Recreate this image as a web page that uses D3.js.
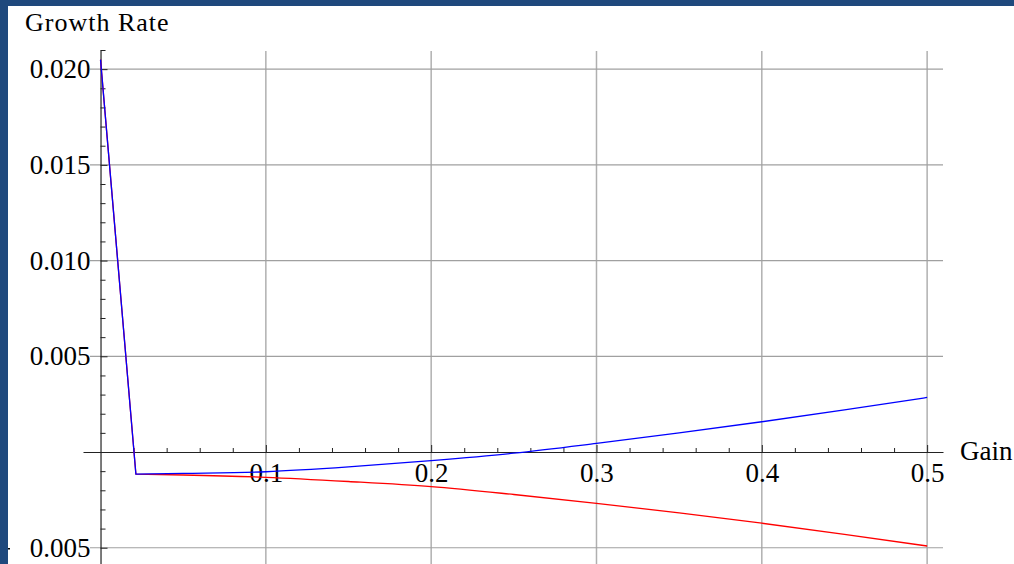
<!DOCTYPE html>
<html>
<head>
<meta charset="utf-8">
<script src="https://cdn.jsdelivr.net/npm/d3@7"></script>
<style>
    body { margin: 0; background: #fff; }
    svg { display: block; }
</style>
</head>
<body>
<div id="chart"></div>
<script>
// values
const gainValues = [0, 0.0214, 0.05, 0.1, 0.15, 0.2, 0.25, 0.3, 0.35, 0.4, 0.45, 0.5];
const blueRates = [0.0205, -0.00116, -0.00112, -0.00103, -0.00078, -0.00045, -0.00006, 0.00045, 0.00100, 0.00158, 0.00220, 0.00285];
const redRates = [0.0205, -0.00116, -0.00120, -0.00132, -0.00154, -0.00181, -0.00222, -0.00268, -0.00318, -0.00372, -0.00430, -0.00491];

const xTicks = [0.1, 0.2, 0.3, 0.4, 0.5];
const yTicks = [-0.005, 0.005, 0.010, 0.015, 0.020];
const xRange = [-0.0106, 0.5096];
const yRange = [-0.00585, 0.021];

function drawChart() {
    const width = 1014, height = 564;
    const font = "'Liberation Serif', 'Times New Roman', serif";

    const svg = d3.select("#chart")
        .append("svg")
        .attr("width", width)
        .attr("height", height)
        .style("background", "#fff");

    const xScale = d3.scaleLinear().domain(xRange).range([83, 943]);
    const yScale = d3.scaleLinear().domain(yRange).range([564, 50]);
    const x0 = xScale(0), y0 = yScale(0);

    // grid
    svg.append("g")
        .selectAll("line")
        .data(xTicks)
        .enter()
        .append("line")
        .attr("x1", d => xScale(d))
        .attr("x2", d => xScale(d))
        .attr("y1", 51)
        .attr("y2", height)
        .attr("stroke", "#b0b0b0")
        .attr("stroke-width", 1.5);

    svg.append("g")
        .selectAll("line")
        .data(yTicks)
        .enter()
        .append("line")
        .attr("x1", 90)
        .attr("x2", 943)
        .attr("y1", d => yScale(d))
        .attr("y2", d => yScale(d))
        .attr("stroke", "#a0a0a0")
        .attr("stroke-width", 1.2);

    // minor ticks
    const xMinor = d3.range(1, 26).map(i => i * 0.02).filter(v => Math.abs(v * 10 - Math.round(v * 10)) > 1e-6);
    svg.append("g")
        .attr("transform", `translate(0, ${y0})`)
        .call(d3.axisBottom(xScale).tickValues(xMinor).tickSize(-4).tickFormat(""))
        .call(g => g.select(".domain").remove())
        .call(g => g.selectAll("line").attr("stroke", "#222"));

    const yMinor = d3.range(-5, 22).map(i => i * 0.001).filter(v => Math.abs(v * 200 - Math.round(v * 200)) > 1e-6);
    svg.append("g")
        .attr("transform", `translate(${x0}, 0)`)
        .call(d3.axisLeft(yScale).tickValues(yMinor).tickSize(-5).tickFormat(""))
        .call(g => g.select(".domain").remove())
        .call(g => g.selectAll("line").attr("stroke", "#222"));

    // major axes
    const xAxis = svg.append("g")
        .attr("transform", `translate(0, ${y0})`)
        .call(d3.axisBottom(xScale).tickValues(xTicks).tickSizeInner(-7).tickSizeOuter(0)
            .tickPadding(11).tickFormat(d3.format(".1f")));

    const yAxis = svg.append("g")
        .attr("transform", `translate(${x0}, 0)`)
        .call(d3.axisLeft(yScale).tickValues(yTicks).tickSizeInner(-7).tickSizeOuter(0)
            .tickPadding(10).tickFormat(d => d3.format(".3f")(Math.abs(d))));

    [xAxis, yAxis].forEach(g => {
        g.select(".domain").attr("stroke", "#222").attr("stroke-width", 1.2);
        g.selectAll("line").attr("stroke", "#222");
        g.selectAll("text")
            .attr("fill", "#000")
            .style("font-family", font)
            .style("font-size", "27px");
    });

    // series: straight drop for the first step, smooth after
    const pts = rates => rates.map((r, i) => [gainValues[i], r]);
    const dropLine = d3.line()
        .x(d => xScale(d[0]))
        .y(d => yScale(d[1]));
    const smoothLine = d3.line()
        .x(d => xScale(d[0]))
        .y(d => yScale(d[1]))
        .curve(d3.curveMonotoneX);

    [[redRates, "#ff0000"], [blueRates, "#0000ff"]].forEach(([rates, color]) => {
        const p = pts(rates);
        svg.append("path")
            .attr("fill", "none")
            .attr("stroke", color)
            .attr("stroke-width", 1.3)
            .attr("stroke-linejoin", "round")
            .attr("d", dropLine(p.slice(0, 2)) + smoothLine(p.slice(1)).replace(/^M/, "L"));
    });

    // axis labels
    svg.append("text")
        .attr("x", 25)
        .attr("y", 31)
        .style("font-family", font)
        .style("font-size", "26px")
        .style("letter-spacing", "1px")
        .text("Growth Rate");

    svg.append("text")
        .attr("x", 960)
        .attr("y", 460)
        .style("font-family", font)
        .style("font-size", "27px")
        .text("Gain");

    // bit of the minus sign of the bottom label peeking out of the frame
    svg.append("line")
        .attr("x1", 8)
        .attr("x2", 10)
        .attr("y1", yScale(-0.005) + 1)
        .attr("y2", yScale(-0.005) + 1)
        .attr("stroke", "#000")
        .attr("stroke-width", 1.3);

    // frame
    svg.append("rect").attr("x", 0).attr("y", 0).attr("width", width).attr("height", 6).attr("fill", "#1f497d");
    svg.append("rect").attr("x", 0).attr("y", 0).attr("width", 8).attr("height", height).attr("fill", "#1f497d");
}

drawChart();
</script>
</body>
</html>
